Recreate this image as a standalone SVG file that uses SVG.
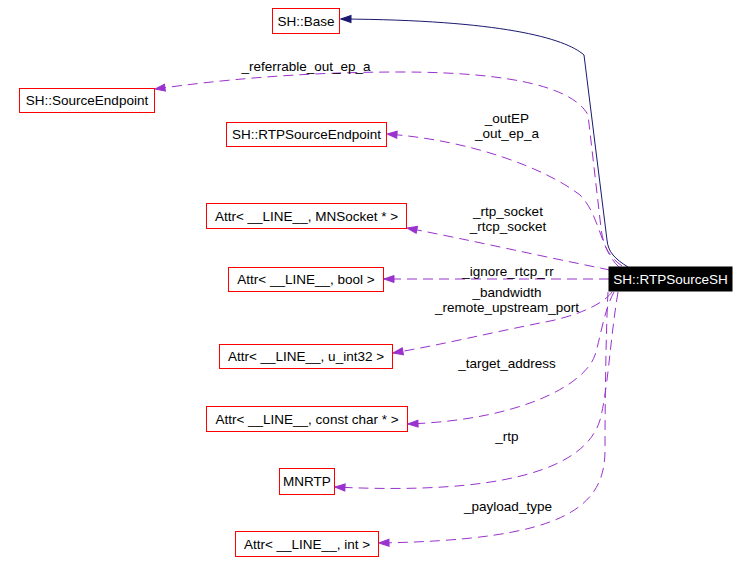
<svg xmlns="http://www.w3.org/2000/svg" width="750" height="574" viewBox="0 0 750 574">
<style>
text{font-family:"Liberation Sans",Arial,Helvetica,sans-serif;font-size:13.5px;fill:#000;text-anchor:middle}
.n rect{fill:#fff;stroke:#ff0000;stroke-width:1}
.dep{fill:none;stroke:#9a32cd;stroke-width:1;stroke-dasharray:10,6}
.inh{fill:none;stroke:#191970;stroke-width:1}
</style>
<defs>
<marker id="ap" markerUnits="userSpaceOnUse" markerWidth="12" markerHeight="10" refX="11" refY="4.5" orient="auto"><path d="M1,1 L11,4.5 L1,8 z" fill="#9a32cd" stroke="#9a32cd"/></marker>
<marker id="an" markerUnits="userSpaceOnUse" markerWidth="12" markerHeight="10" refX="11" refY="4.5" orient="auto"><path d="M1,1 L11,4.5 L1,8 z" fill="#191970" stroke="#191970"/></marker>
</defs>
<rect width="750" height="574" fill="#fff"/>
<g id="edges">
<path class="inh" d="M628,267 C615,259 608,252 607,240 L584,55 C565,38 500,20 341,19" marker-end="url(#an)"/>
<path class="dep" d="M622,266 C608,256 603,245 601,228 L588,115 C575,90 520,72 400,72 C300,72 220,80 155,89" marker-end="url(#ap)"/>
<path class="dep" d="M619,267 C600,250 600,215 580,195 C545,168 470,140 387,134" marker-end="url(#ap)"/>
<path class="dep" d="M610,270 C540,256 470,240 407,228" marker-end="url(#ap)"/>
<path class="dep" d="M609,279 L384,279" marker-end="url(#ap)"/>
<path class="dep" d="M612,292 C602,306 570,318 540,323 C490,333 440,345 393,353" marker-end="url(#ap)"/>
<path class="dep" d="M614,292 C604,310 600,340 595,355 C585,385 520,420 408,424" marker-end="url(#ap)"/>
<path class="dep" d="M618,292 C610,340 608,390 600,420 C585,470 500,495 335,487" marker-end="url(#ap)"/>
<path class="dep" d="M608,292 C606,330 605,400 605,450 C605,510 560,540 379,543" marker-end="url(#ap)"/>
<text x="306" y="71">_referrable_out_ep_a</text>
<text x="507" y="123">_outEP</text>
<text x="507" y="138">_out_ep_a</text>
<text x="508" y="216">_rtp_socket</text>
<text x="508" y="231">_rtcp_socket</text>
<text x="508" y="276">_ignore_rtcp_rr</text>
<text x="507" y="297">_bandwidth</text>
<text x="507" y="312">_remote_upstream_port</text>
<text x="507" y="368">_target_address</text>
<text x="507" y="441">_rtp</text>
<text x="508" y="511">_payload_type</text>
</g>
<g id="main" class="n"><rect x="609" y="267" width="123" height="24" style="fill:#000;stroke:#000"/><text x="670.5" y="284" style="fill:#fff">SH::RTPSourceSH</text></g>
<g id="base" class="n"><rect x="272.5" y="8.5" width="67" height="25"/><text x="306" y="26">SH::Base</text></g>
<g id="srcep" class="n"><rect x="19.5" y="88.5" width="135" height="24"/><text x="87" y="105">SH::SourceEndpoint</text></g>
<g id="rtpsrcep" class="n"><rect x="226.5" y="122.5" width="160" height="24"/><text x="306.5" y="139">SH::RTPSourceEndpoint</text></g>
<g id="attr_sock" class="n"><rect x="206.5" y="203.5" width="200" height="25"/><text x="306.5" y="221">Attr&lt; __LINE__, MNSocket * &gt;</text></g>
<g id="attr_bool" class="n"><rect x="228.5" y="267.5" width="155" height="24"/><text x="306" y="284">Attr&lt; __LINE__, bool &gt;</text></g>
<g id="attr_u32" class="n"><rect x="219.5" y="344.5" width="173" height="24"/><text x="306" y="361">Attr&lt; __LINE__, u_int32 &gt;</text></g>
<g id="attr_cc" class="n"><rect x="206.5" y="406.5" width="201" height="25"/><text x="307" y="424">Attr&lt; __LINE__, const char * &gt;</text></g>
<g id="mnrtp" class="n"><rect x="279.5" y="468.5" width="55" height="26"/><text x="307" y="486">MNRTP</text></g>
<g id="attr_int" class="n"><rect x="235.5" y="531.5" width="143" height="25"/><text x="307" y="549">Attr&lt; __LINE__, int &gt;</text></g>
</svg>
